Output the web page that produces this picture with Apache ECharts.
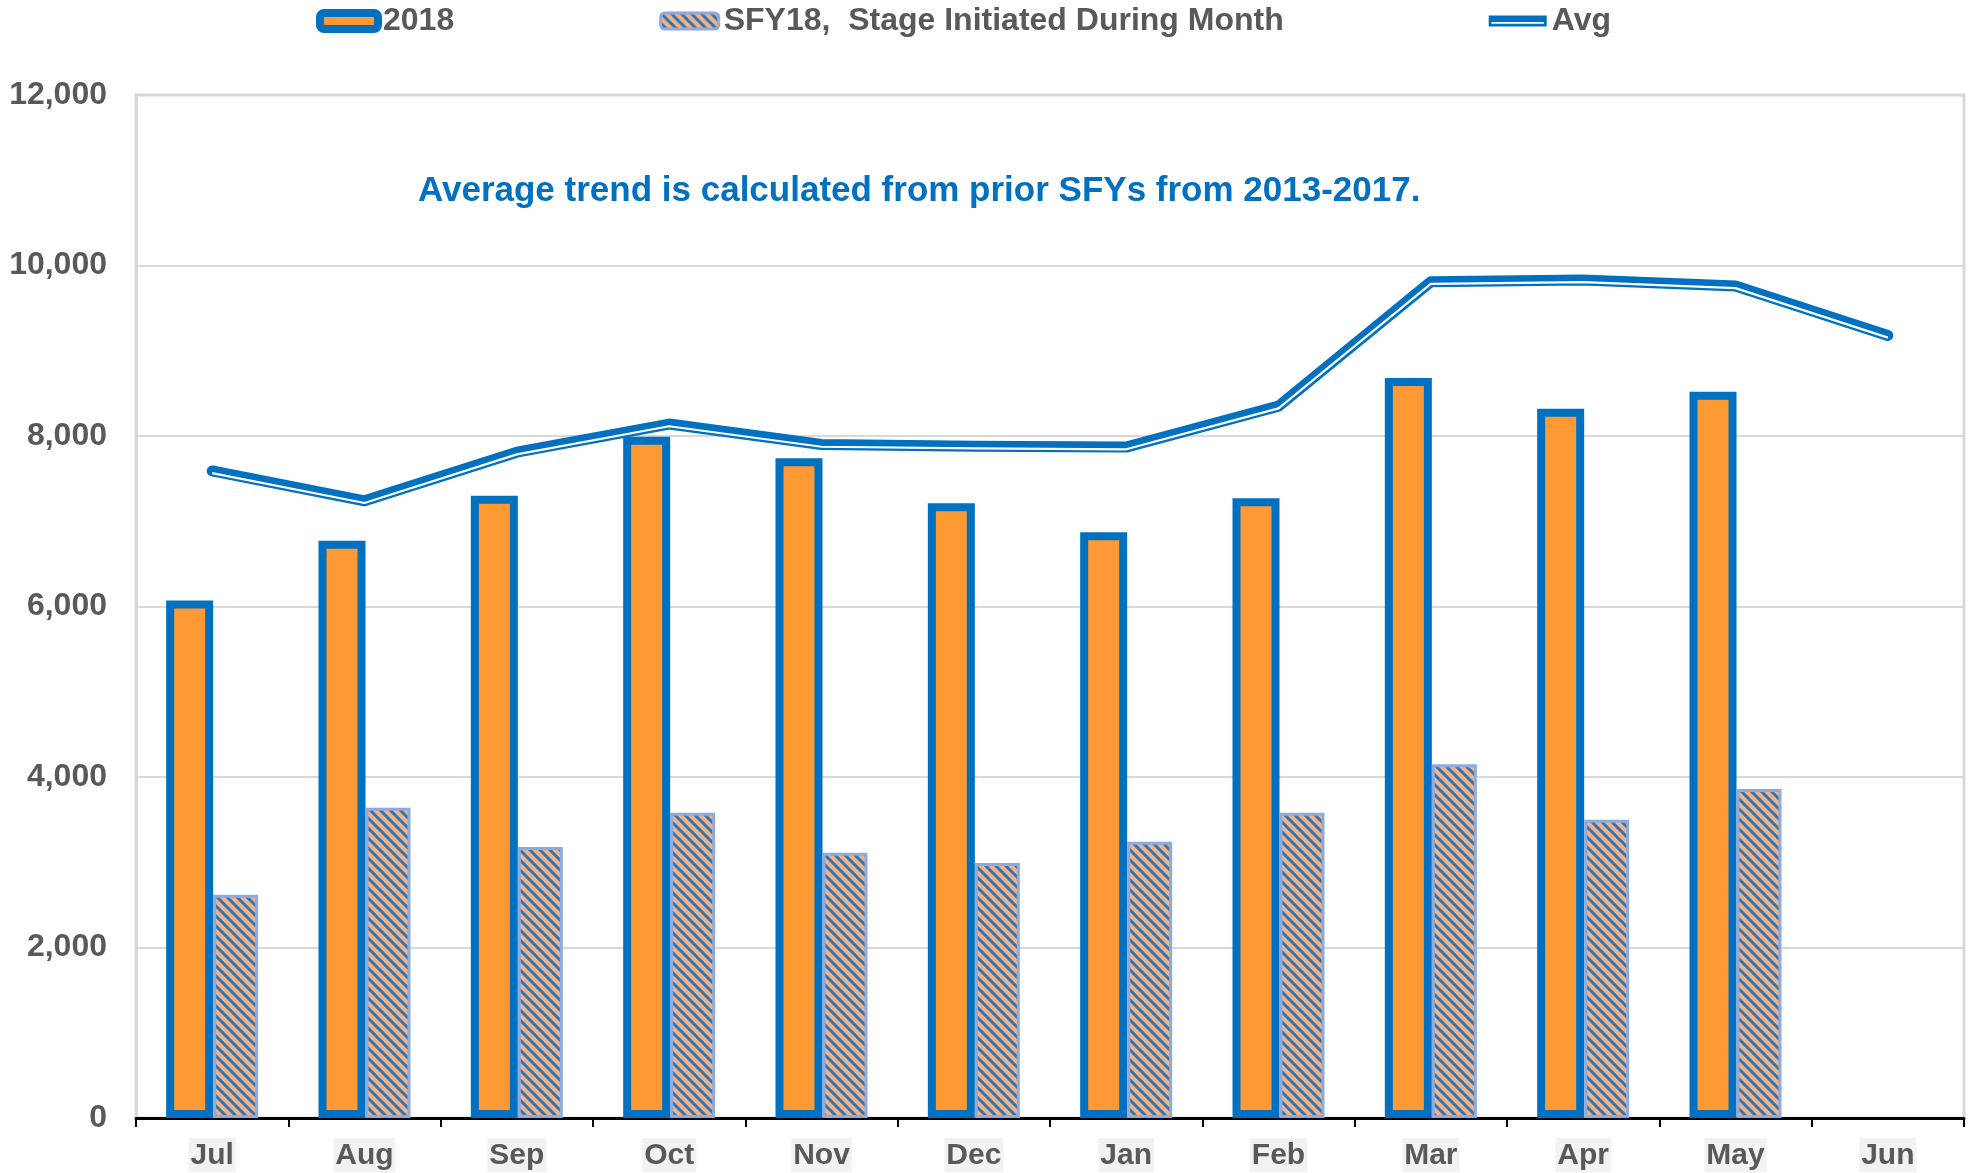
<!DOCTYPE html>
<html>
<head>
    <meta charset="utf-8">
    <title>ECharts</title>
    <script src="https://cdn.jsdelivr.net/npm/echarts@6/dist/echarts.min.js"></script>
</head>
<body style="margin:0;background:#fff;">
<div id="main" style="width: 1973px;height:1173px;"></div>
<script type="text/javascript">
    // data
    var months = ['Jul', 'Aug', 'Sep', 'Oct', 'Nov', 'Dec', 'Jan', 'Feb', 'Mar', 'Apr', 'May', 'Jun'];
    var data2018 = [6070, 6770, 7300, 7990, 7740, 7210, 6870, 7270, 8680, 8320, 8520, null];
    var sfy18Data = [2620, 3640, 3180, 3580, 3110, 2990, 3240, 3580, 4150, 3500, 3860, null];
    var avgData = [7590, 7240, 7810, 8140, 7900, 7880, 7870, 8350, 9810, 9830, 9760, 9180];
    var yTicks = [0, 2000, 4000, 6000, 8000, 10000, 12000];

    var fontFam = '"Liberation Sans", Arial, sans-serif';
    var blue = '#0070C0';

    // hatched fill: peach with blue "\" stripes
    function makeHatch() {
        var c = document.createElement('canvas');
        c.width = 10;
        c.height = 10;
        var ctx = c.getContext('2d');
        ctx.fillStyle = '#F4B183';
        ctx.fillRect(0, 0, 10, 10);
        ctx.strokeStyle = '#2E75B6';
        ctx.lineWidth = 3;
        ctx.beginPath();
        ctx.moveTo(-5, -5); ctx.lineTo(15, 15);
        ctx.moveTo(-15, -5); ctx.lineTo(5, 15);
        ctx.moveTo(5, -5); ctx.lineTo(25, 15);
        ctx.stroke();
        return c;
    }
    var hatch = {image: makeHatch(), repeat: 'repeat'};

    var myChart = echarts.init(document.getElementById('main'));

    var option = {
        animation: false,
        backgroundColor: '#fff',
        textStyle: {fontFamily: fontFam},
        title: {
            text: 'Average trend is calculated from prior SFYs from 2013-2017.',
            left: 418,
            top: 174,
            padding: 0,
            textStyle: {color: blue, fontSize: 35, fontWeight: 'bold', fontFamily: fontFam}
        },
        legend: {
            left: 311,
            top: 0,
            itemGap: 205,
            itemWidth: 58,
            itemHeight: 16,
            textStyle: {color: '#595959', fontSize: 32, fontWeight: 'bold', fontFamily: fontFam},
            data: [
                {name: '2018', itemStyle: {color: '#FF9933', borderColor: blue, borderWidth: 8}},
                {name: 'SFY18,  Stage Initiated During Month', itemStyle: {borderColor: '#8FAADC', borderWidth: 3}},
                {name: 'Avg', icon: 'path://M0,0 L64,0 L64,12 L0,12 Z M3,7 L3,9 L61,9 L61,7 Z',
                    itemStyle: {color: blue, borderWidth: 0}}
            ]
        },
        grid: {
            left: 136,
            top: 95,
            right: 9,
            bottom: 55,
            show: true,
            borderColor: '#D9D9D9',
            borderWidth: 3,
            backgroundColor: '#fff'
        },
        xAxis: {
            type: 'category',
            data: months,
            boundaryGap: true,
            axisLine: {lineStyle: {color: '#000', width: 3}},
            axisTick: {show: true, length: 9, lineStyle: {color: '#000', width: 2}},
            axisLabel: {
                color: '#595959',
                fontSize: 30,
                fontWeight: 'bold',
                fontFamily: fontFam,
                margin: 20,
                backgroundColor: '#F2F2F2',
                padding: [3, 2, 1, 2]
            }
        },
        yAxis: {
            type: 'value',
            min: yTicks[0],
            max: yTicks[yTicks.length - 1],
            interval: 2000,
            axisLine: {show: true, lineStyle: {color: '#D9D9D9', width: 3}},
            axisTick: {show: false},
            splitLine: {lineStyle: {color: '#D9D9D9', width: 2}},
            axisLabel: {
                color: '#595959',
                fontSize: 32,
                fontWeight: 'bold',
                fontFamily: fontFam,
                margin: 29,
                formatter: function (v) { return v.toLocaleString('en-US'); }
            }
        },
        series: [
            {
                name: '2018',
                type: 'bar',
                barWidth: 47,
                barGap: '0%',
                data: data2018,
                itemStyle: {color: '#FF9933', borderColor: blue, borderWidth: 8}
            },
            {
                name: 'SFY18,  Stage Initiated During Month',
                type: 'bar',
                barWidth: 45,
                data: sfy18Data,
                itemStyle: {color: hatch, borderColor: '#8FAADC', borderWidth: 3}
            },
            {
                name: 'Avg',
                type: 'line',
                z: 5,
                data: avgData,
                symbol: 'none',
                itemStyle: {color: blue},
                lineStyle: {color: blue, width: 11, cap: 'round', join: 'round'}
            },
            {
                // thin white gap of the thick-thin double line
                name: 'avgGap',
                type: 'custom',
                z: 6,
                silent: true,
                data: avgData,
                renderItem: function (params, api) {
                    if (params.dataIndex !== 0) return;
                    var pts = avgData.map(function (v, i) {
                        var p = api.coord([i, v]);
                        return [p[0], p[1] + 2.2];
                    });
                    return {
                        type: 'polyline',
                        shape: {points: pts},
                        style: {stroke: '#fff', lineWidth: 2.2, fill: null, lineJoin: 'round'}
                    };
                }
            }
        ]
    };

    myChart.setOption(option);
</script>
</body>
</html>
